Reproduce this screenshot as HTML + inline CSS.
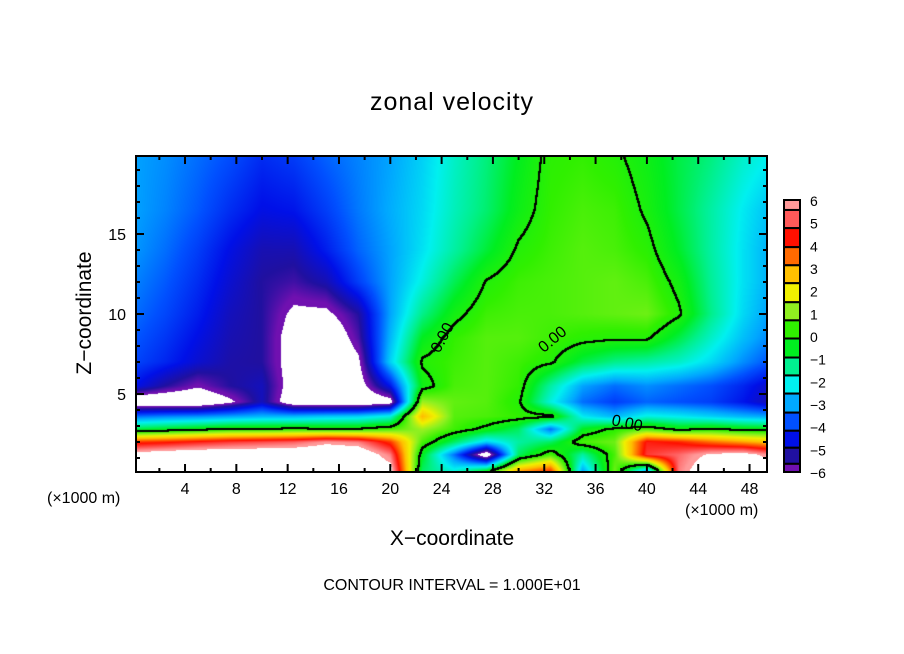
<!DOCTYPE html>
<html><head><meta charset="utf-8"><style>
body{margin:0;background:#fff;width:904px;height:654px;position:relative;overflow:hidden;font-family:"Liberation Sans",sans-serif;}
.t{position:absolute;color:#000;white-space:nowrap;}
</style></head><body>
<div class="t" style="left:0;width:904px;text-align:center;top:88px;font-size:25px;letter-spacing:1px;">zonal velocity</div>
<div class="t" style="left:85px;top:313px;font-size:21px;transform:translate(-50%,-50%) rotate(-90deg);">Z−coordinate</div>
<div class="t" style="left:0;width:904px;text-align:center;top:527px;font-size:21px;">X−coordinate</div>
<div class="t" style="left:47px;top:490px;font-size:16px;">(×1000 m)</div>
<div class="t" style="left:685px;top:502px;font-size:16px;">(×1000 m)</div>
<div class="t" style="left:0;width:904px;text-align:center;top:577px;font-size:16px;">CONTOUR INTERVAL = 1.000E+01</div>
<canvas id="cv" width="631" height="316" style="position:absolute;left:136px;top:156px;"></canvas>
<svg id="sv" width="904" height="654" style="position:absolute;left:0;top:0;"></svg>
<script>
const xs=[0,2.5,5,7.5,10,12.5,15,17.5,20,22.5,25,27.5,30,32.5,35,37.5,40,42.5,45,47.5,50];
const zs=[0.2,1.2,2,2.8,3.6,4.5,5.5,7,8.5,10,12,14,16.5,20];
const u=[
[7,7,7,7,7,7,7,7,6.5,-1.0,-2.0,-0.5,3.0,4.0,-3.0,0.8,-3,5.5,7,7,6.5],
[6.5,6.8,7,7,7,7,7,7,5.5,-0.5,-3.5,-7,-1.0,0.5,-1.5,0.5,4.8,5.3,6.2,6.5,5.5],
[4.0,4.2,4.5,4.8,5.0,5.2,5.8,5.5,4.0,0.5,-1.0,-2.5,-1.5,-1.0,0.5,0.8,4.5,4.2,3.5,3.0,2.5],
[-0.8,-0.5,-0.2,0.1,0.1,0.2,0.1,0.1,0.5,1.2,0.4,-0.2,-1.0,-3.5,-0.5,0.2,0.5,-0.2,0.1,-0.2,-0.3],
[-3.5,-3.3,-3.2,-3.0,-2.8,-2.8,-2.6,-2.5,-2.0,2.8,0.6,0.5,0.3,0.2,-2.2,-2.8,-2.0,-2.2,-2.5,-2.8,-3.0],
[-7,-7,-7,-6.2,-5.0,-6.8,-7,-7,-6.5,1.2,0.7,0.6,0.1,-2.0,-3.5,-4.0,-3.6,-3.8,-4.0,-4.5,-5.2],
[-4.5,-5.3,-5.9,-5.3,-5.0,-6.5,-7,-6.5,-4.5,-0.3,0.5,0.6,0.3,-1.5,-3.0,-3.5,-3.2,-3.5,-3.8,-4.3,-5.0],
[-3.9,-4.3,-4.8,-5.2,-5.3,-6.5,-7,-6.2,-2.5,0.1,0.4,0.6,0.4,0.1,-0.8,-1.3,-1.5,-1.8,-2.4,-3.2,-3.9],
[-3.7,-4.1,-4.6,-5.1,-5.3,-6.5,-7,-5.6,-2.8,-0.5,0.3,0.6,0.6,0.4,0.2,0.1,0.1,-0.8,-1.8,-2.7,-3.4],
[-3.5,-3.9,-4.4,-5.0,-5.3,-6.2,-6.2,-5.3,-3.0,-1.3,-0.2,0.4,0.5,0.5,0.6,0.7,0.8,0.1,-1.3,-2.4,-3.2],
[-3.3,-3.7,-4.2,-4.8,-5.3,-5.5,-5.1,-4.0,-3.0,-2.0,-0.9,0.05,0.4,0.5,0.6,0.7,0.5,-0.2,-1.4,-2.3,-3.0],
[-3.1,-3.5,-4.0,-4.6,-5.1,-5.1,-4.4,-3.6,-3.0,-2.3,-1.5,-0.7,0.1,0.4,0.6,0.5,0.2,-0.6,-1.5,-2.3,-3.0],
[-3.0,-3.3,-3.7,-4.2,-4.6,-4.5,-4.0,-3.4,-2.9,-2.4,-1.7,-1.1,-0.3,0.3,0.5,0.4,-0.1,-0.8,-1.5,-2.2,-2.8],
[-3.0,-3.2,-3.5,-3.8,-4.2,-4.0,-3.6,-3.3,-3.0,-2.5,-1.8,-1.2,-0.5,0.2,0.3,0.1,-0.3,-0.8,-1.2,-1.8,-2.2]];
const levelBounds=[6,5.56,4.76,3.92,3.12,2.33,1.49,0.69,-0.11,-0.95,-1.74,-2.54,-3.38,-4.18,-4.93,-5.64,-6];
const levelColors=['#ff9a9a','#ff5a5a','#ff1000','#ff6a00','#ffc000','#f0f000','#90f020','#30f000','#00ee20','#00f090','#00f0f0','#00a8ff','#0050ff','#0010e8','#2010a0','#7010b0'];
const xTicks=[4,8,12,16,20,24,28,32,36,40,44,48];
const zTicks=[5,10,15];
const cbLabels=[6,5,4,3,2,1,0,-1,-2,-3,-4,-5,-6];
const X0=136,Y0=156,W=631,H=316;
const xPx=x=>133.7+12.83*x, zPx=z=>474-16*z;
function idx(a,v){let i=0;while(i<a.length-2&&v>a[i+1])i++;return i;}
function field(x,z){
  x=Math.max(xs[0],Math.min(xs[xs.length-1],x));z=Math.max(zs[0],Math.min(zs[zs.length-1],z));
  const i=idx(xs,x),j=idx(zs,z);
  const tx=(x-xs[i])/(xs[i+1]-xs[i]),tz=(z-zs[j])/(zs[j+1]-zs[j]);
  const a=u[j][i],b=u[j][i+1],c=u[j+1][i],d=u[j+1][i+1];
  return (a*(1-tx)+b*tx)*(1-tz)+(c*(1-tx)+d*tx)*tz;
}
function hex(c){return [parseInt(c.substr(1,2),16),parseInt(c.substr(3,2),16),parseInt(c.substr(5,2),16)];}
const rgb=levelColors.map(hex);
const centers=levelColors.map((c,k)=>(levelBounds[k]+levelBounds[k+1])/2);
function colorOf(v){
  if(v>levelBounds[0]||v<levelBounds[levelBounds.length-1])return [255,255,255];
  if(v>=centers[0])return rgb[0];
  if(v<=centers[centers.length-1])return rgb[rgb.length-1];
  for(let k=0;k<centers.length-1;k++){
    if(v<=centers[k]&&v>=centers[k+1]){const t=(centers[k]-v)/(centers[k]-centers[k+1]);
      return [0,1,2].map(q=>Math.round(rgb[k][q]*(1-t)+rgb[k+1][q]*t));}
  }
  return rgb[rgb.length-1];
}
const cv=document.getElementById('cv'),ctx=cv.getContext('2d');
const img=ctx.createImageData(W,H);
const F=new Float32Array(W*H);
for(let j=0;j<H;j++)for(let i=0;i<W;i++){
  const x=(X0+i+0.5-133.7)/12.83,z=(474-(Y0+j+0.5))/16;
  F[j*W+i]=field(x,z);
}
for(let j=0;j<H;j++)for(let i=0;i<W;i++){
  const v=F[j*W+i];let c=colorOf(v);
  const s=v>0;
  for(const [di,dj] of [[1,0],[0,1],[-1,0],[0,-1],[1,1],[-1,-1],[1,-1],[-1,1]]){const ii=i+di,jj=j+dj;
    if(ii>=0&&jj>=0&&ii<W&&jj<H&&(F[jj*W+ii]>0)!==s){c=[0,0,0];}}
  const p=(j*W+i)*4;img.data[p]=c[0];img.data[p+1]=c[1];img.data[p+2]=c[2];img.data[p+3]=255;
}
ctx.putImageData(img,0,0);
const NS='http://www.w3.org/2000/svg',sv=document.getElementById('sv');
function mk(t,a){const e=document.createElementNS(NS,t);for(const k in a)e.setAttribute(k,a[k]);sv.appendChild(e);return e;}
const fr=mk('rect',{x:X0,y:Y0,width:W,height:H,fill:'none',stroke:'#000','stroke-width':2});


for(let x=2;x<=50;x+=2){const px=xPx(x);if(px>X0+W)continue;const L=(x%4===0)?8:4;
  mk('line',{x1:px,x2:px,y1:Y0+H,y2:Y0+H-L,stroke:'#000','stroke-width':2});
  mk('line',{x1:px,x2:px,y1:Y0,y2:Y0+L,stroke:'#000','stroke-width':2});}
for(let z=1;z<=19;z++){const py=zPx(z);const L=(z%5===0)?8:4;
  mk('line',{x1:X0,x2:X0+L,y1:py,y2:py,stroke:'#000','stroke-width':2});
  mk('line',{x1:X0+W,x2:X0+W-L,y1:py,y2:py,stroke:'#000','stroke-width':2});}
xTicks.forEach(x=>{const t=mk('text',{x:xPx(x),y:494,'font-size':16,'text-anchor':'middle','font-family':'Liberation Sans'});t.textContent=x;
  
  });
zTicks.forEach(z=>{const t=mk('text',{x:126,y:zPx(z)+6,'font-size':16,'text-anchor':'end','font-family':'Liberation Sans'});t.textContent=z;
  
  });
[[443,338,-62],[553,340,-40],[627,424,12]].forEach(p=>{const t=mk('text',{x:p[0],y:p[1],'font-size':16,'text-anchor':'middle','dominant-baseline':'middle','font-family':'Liberation Sans',transform:`rotate(${p[2]} ${p[0]} ${p[1]})`});t.textContent='0.00';
  
  });
const cbTop=200,cbBot=472,cbX=784,cbW=16;
const vy=v=>cbTop+(6-v)*(cbBot-cbTop)/12;
levelColors.forEach((c,k)=>{const y1=vy(levelBounds[k]),y2=vy(levelBounds[k+1]);
  const r=mk('rect',{x:cbX,y:y1,width:cbW,height:y2-y1,fill:c,stroke:'#000','stroke-width':2});
  
  });
cbLabels.forEach(v=>{const t=mk('text',{x:810,y:vy(v)+6,'font-size':14,'font-family':'Liberation Sans'});t.textContent=(v<0?'−'+(-v):v);
  
  });
</script>
</body></html>
